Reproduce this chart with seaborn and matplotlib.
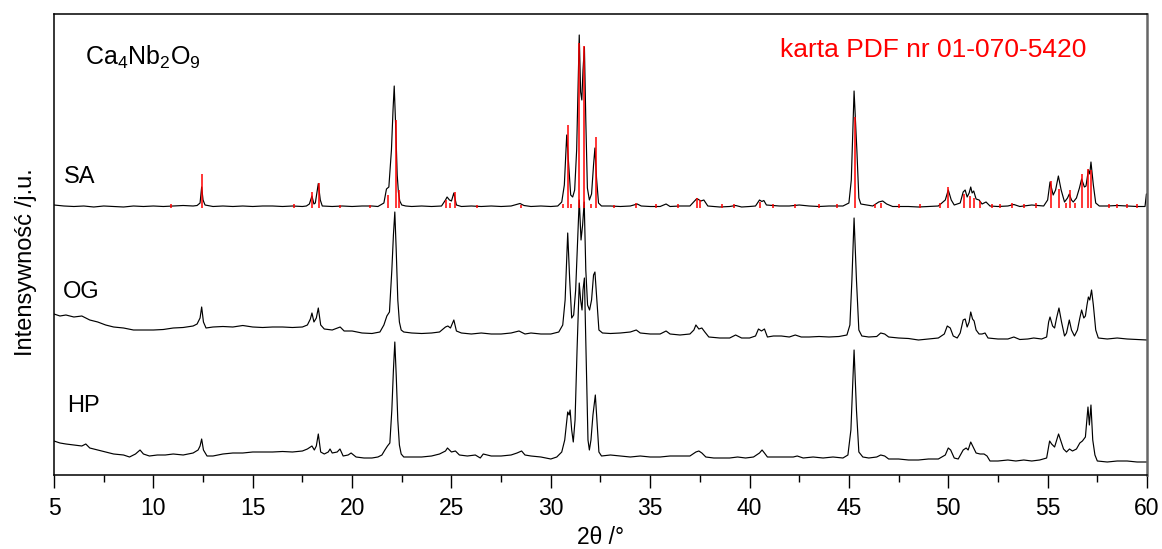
import numpy as np
import pandas as pd
import matplotlib
matplotlib.use("Agg")
import matplotlib.pyplot as plt
from matplotlib.ticker import MultipleLocator
import seaborn as sns

# --- diffraction patterns (2theta in degrees, intensity in a.u.) ---
sa_2theta = [
    5.0, 5.5, 6.0, 6.5, 7.0, 7.5, 8.0, 8.5, 9.0, 9.5,
    10.0, 10.5, 11.0, 11.5, 12.0, 12.2, 12.35, 12.43, 12.5, 12.6,
    13.0, 13.5, 14.0, 14.5, 15.0, 15.5, 16.0, 16.5, 17.0, 17.5,
    17.7, 17.85, 17.98, 18.08, 18.15, 18.3, 18.4, 18.5, 19.0, 19.5,
    20.0, 20.5, 21.0, 21.3, 21.6, 21.73, 21.85, 21.98, 22.06, 22.12,
    22.2, 22.27, 22.33, 22.4, 22.5, 22.7, 23.0, 23.5, 24.0, 24.5,
    24.7, 24.78, 24.9, 25.0, 25.12, 25.25, 25.5, 26.0, 26.5, 27.0,
    27.5, 28.0, 28.45, 28.65, 29.0, 29.5, 30.0, 30.35, 30.55, 30.68,
    30.8, 30.9, 31.0, 31.1, 31.2, 31.3, 31.38, 31.43, 31.5, 31.56,
    31.62, 31.69, 31.76, 31.84, 31.94, 32.05, 32.15, 32.22, 32.3, 32.4,
    32.55, 33.0, 33.5, 34.0, 34.35, 34.55, 35.0, 35.5, 35.8, 36.0,
    36.5, 37.0, 37.35, 37.55, 37.7, 37.9, 38.5, 39.0, 39.3, 39.6,
    40.0, 40.3, 40.5, 40.62, 40.72, 40.85, 41.5, 42.0, 42.5, 43.0,
    43.5, 44.0, 44.7, 45.0, 45.12, 45.26, 45.4, 45.5, 45.6, 45.9,
    46.2, 46.5, 46.7, 46.9, 47.2, 48.0, 48.5, 49.0, 49.5, 49.85,
    50.0, 50.15, 50.3, 50.6, 50.75, 50.85, 50.95, 51.05, 51.13, 51.2,
    51.28, 51.4, 51.55, 51.7, 51.9, 52.1, 52.5, 53.0, 53.3, 53.6,
    54.2, 54.8, 55.0, 55.12, 55.28, 55.4, 55.54, 55.68, 55.85, 56.0,
    56.09, 56.2, 56.29, 56.45, 56.6, 56.71, 56.85, 56.93, 57.05, 57.12,
    57.18, 57.3, 57.42, 57.6, 58.0, 58.5, 59.0, 59.5, 59.9, 59.97, 60.0,
]
sa_intensity = [
    15, 14, 13.5, 14, 13, 14, 13.5, 13, 14, 13.5,
    14, 13.5, 14, 14.5, 14, 14.5, 17, 33, 20, 15,
    13.5, 14, 13.5, 14, 13.5, 14, 14, 13.5, 14, 13.5,
    14, 16, 24, 16, 17, 36.5, 20, 14, 13.5, 14,
    13.5, 14, 14, 13.5, 17, 31, 33, 70, 110, 134,
    90, 45, 28, 19, 15, 14, 13.5, 14, 13.5, 14,
    20, 23, 20, 19, 27, 15, 13.5, 14, 13.5, 14,
    13.5, 14, 16.5, 14.5, 13.5, 14, 13.5, 14, 18, 35,
    85, 55, 25, 23, 30, 70, 140, 185, 128, 120,
    150, 173, 100, 32, 20, 26, 55, 72, 42, 17,
    14, 14, 13.5, 14, 16, 14, 13.5, 13.5, 16, 13.5,
    14, 14, 21.5, 19, 20, 14, 13, 13.5, 14.5, 13,
    13.5, 14, 20, 18.5, 19.5, 15, 14, 14, 15, 14,
    13.5, 14, 14, 17, 40, 129, 70, 22, 16, 15,
    14, 18, 19, 16, 13.5, 13.5, 13, 13.5, 14, 20,
    30, 20, 15, 17, 28, 30, 23, 27, 33, 27,
    29, 21, 20, 16, 18, 14, 13.5, 14, 15.5, 13.5,
    15, 14, 20, 38, 25, 30, 44, 30, 18, 22,
    26, 20, 18, 22, 32, 41, 33, 34, 50, 46,
    58, 35, 17, 14, 14, 14.5, 14, 13.5, 13.5, 26, 26,
]

og_2theta = [
    5.0, 5.3, 5.6, 6.0, 6.4, 6.8, 7.2, 7.6, 8.0, 8.5,
    9.0, 9.5, 10.0, 10.5, 11.0, 11.5, 12.0, 12.2, 12.35, 12.43,
    12.52, 12.65, 13.0, 13.5, 14.0, 14.5, 15.0, 15.5, 16.0, 16.5,
    17.0, 17.5, 17.75, 17.9, 17.98, 18.08, 18.2, 18.3, 18.42, 18.6,
    19.0, 19.4, 19.6, 20.0, 20.5, 21.0, 21.4, 21.6, 21.75, 21.88,
    22.0, 22.08, 22.15, 22.22, 22.3, 22.38, 22.47, 22.6, 23.0, 23.5,
    24.0, 24.4, 24.7, 24.82, 24.95, 25.12, 25.25, 25.5, 26.0, 26.5,
    27.0, 27.5, 28.0, 28.4, 28.7, 29.0, 29.5, 30.0, 30.4, 30.6,
    30.72, 30.85, 30.95, 31.05, 31.15, 31.25, 31.35, 31.43, 31.52, 31.6,
    31.68, 31.76, 31.85, 31.95, 32.05, 32.15, 32.22, 32.3, 32.42, 32.6,
    33.0, 33.5, 34.0, 34.3, 34.5, 35.0, 35.5, 35.8, 36.0, 36.5,
    37.0, 37.2, 37.3, 37.45, 37.6, 37.75, 37.95, 38.5, 39.0, 39.3,
    39.6, 40.0, 40.3, 40.45, 40.6, 40.75, 40.9, 41.2, 41.6, 42.0,
    42.3, 42.6, 43.0, 43.5, 44.0, 44.5, 44.9, 45.05, 45.15, 45.26,
    45.38, 45.5, 45.65, 46.0, 46.4, 46.6, 46.8, 47.0, 47.5, 48.0,
    48.5, 49.0, 49.5, 49.8, 49.95, 50.1, 50.25, 50.45, 50.6, 50.75,
    50.85, 50.95, 51.05, 51.13, 51.22, 51.3, 51.4, 51.55, 51.7, 51.85,
    52.0, 52.5, 53.0, 53.3, 53.6, 54.0, 54.3, 54.7, 54.95, 55.05,
    55.12, 55.25, 55.35, 55.45, 55.57, 55.7, 55.85, 55.95, 56.09, 56.2,
    56.35, 56.5, 56.62, 56.71, 56.82, 56.9, 56.98, 57.05, 57.12, 57.21,
    57.3, 57.42, 57.55, 58.0, 58.5, 59.0, 59.5, 60.0,
]
og_intensity = [
    36, 34, 35, 33, 34, 30, 28, 25, 23, 22,
    20, 20, 20, 20.5, 22, 22.5, 24, 26, 32, 43,
    28, 22, 23, 23.5, 23, 24.5, 23, 22.5, 23, 23,
    22.5, 23, 25, 31, 37, 28, 32, 42, 25, 21,
    20, 23, 19, 19, 17, 16.5, 18, 25, 34, 38,
    80, 115, 138, 100, 50, 28, 20, 18, 17, 16.5,
    17, 18, 23, 24, 22, 30, 19, 17, 16, 17,
    16, 16, 17, 19, 16, 17, 16, 16, 18, 25,
    50, 117, 70, 32, 35, 60, 110, 150, 110, 125,
    148, 80, 45, 40, 50, 75, 78, 55, 20, 17,
    16.5, 17, 18, 20, 17, 16, 16, 19, 16, 15,
    16, 20, 25, 21, 22, 18, 13, 12, 12, 15,
    12, 12, 14, 21, 19, 21, 13, 14, 14, 13,
    15, 13, 13, 13.5, 13, 13.5, 15, 25, 70, 132,
    70, 20, 14, 13, 13.5, 17, 16, 13, 12, 11.5,
    10, 11, 12, 16, 24, 22, 14, 12, 17, 30,
    31, 23, 28, 38, 31, 29, 20, 16, 16, 17,
    12, 11, 11, 13, 10.5, 11, 12, 11, 13, 28,
    33, 24, 22, 32, 42, 28, 14, 17, 30, 20,
    14, 20, 32, 40, 32, 34, 45, 53, 50, 60,
    45, 20, 12, 11, 12, 11, 10.5, 10,
]

hp_2theta = [
    5.0, 5.3, 5.6, 6.0, 6.4, 6.6, 6.8, 7.2, 7.6, 8.0,
    8.5, 8.8, 9.1, 9.33, 9.5, 9.8, 10.2, 10.6, 11.0, 11.5,
    12.0, 12.25, 12.35, 12.43, 12.52, 12.7, 13.0, 13.5, 14.0, 14.5,
    15.0, 15.5, 16.0, 16.5, 17.0, 17.5, 17.75, 17.9, 17.98, 18.1,
    18.2, 18.3, 18.42, 18.6, 18.8, 18.89, 19.0, 19.25, 19.39, 19.55,
    19.8, 19.95, 20.2, 20.6, 21.0, 21.3, 21.5, 21.65, 21.78, 21.9,
    22.0, 22.08, 22.15, 22.22, 22.3, 22.38, 22.47, 22.6, 23.0, 23.5,
    24.0, 24.4, 24.7, 24.8, 25.0, 25.2, 25.4, 25.8, 26.2, 26.45,
    26.6, 27.0, 27.5, 28.0, 28.3, 28.53, 28.7, 29.0, 29.5, 30.0,
    30.3, 30.55, 30.7, 30.85, 30.92, 30.97, 31.05, 31.13, 31.22, 31.32,
    31.43, 31.5, 31.57, 31.62, 31.69, 31.78, 31.87, 31.94, 32.02, 32.12,
    32.24, 32.32, 32.42, 32.55, 33.0, 33.5, 34.0, 34.5, 35.0, 35.5,
    36.0, 36.5, 37.0, 37.3, 37.45, 37.6, 37.8, 38.2, 38.6, 39.0,
    39.4, 39.8, 40.2, 40.5, 40.63, 40.75, 40.9, 41.3, 41.8, 42.2,
    42.4, 42.7, 43.2, 43.7, 44.2, 44.7, 44.95, 45.1, 45.26, 45.38,
    45.5, 45.7, 46.0, 46.4, 46.6, 46.8, 47.0, 47.5, 48.0, 48.5,
    49.0, 49.5, 49.85, 50.0, 50.12, 50.3, 50.5, 50.75, 50.9, 51.0,
    51.13, 51.25, 51.4, 51.6, 51.8, 51.95, 52.1, 52.5, 53.0, 53.4,
    53.8, 54.2, 54.6, 54.95, 55.1, 55.2, 55.35, 55.55, 55.65, 55.8,
    55.95, 56.1, 56.25, 56.45, 56.62, 56.75, 56.9, 57.03, 57.1, 57.18,
    57.27, 57.38, 57.5, 58.0, 58.5, 59.0, 59.5, 60.0,
]
hp_intensity = [
    34, 32, 31, 30, 29, 31, 27, 25, 23, 21,
    20, 18, 21, 25, 21, 19, 20, 20, 21, 20,
    22, 25, 29, 36, 25, 19, 19, 21, 22, 22,
    23, 23, 23, 23.5, 23, 24, 26, 28, 29, 25,
    29, 41, 23, 21, 23, 26, 22, 23, 26, 19,
    20, 22, 18, 17, 17, 18, 20, 25, 29, 32,
    65, 105, 133, 100, 55, 30, 21, 18, 18, 18,
    19, 21, 24, 27, 23, 24, 20, 19, 20, 17,
    21, 19, 19, 20, 22, 24, 20, 19, 18, 16,
    18, 23, 35, 63, 60, 65, 45, 33, 55, 125,
    192, 175, 165, 185, 197, 115, 35, 25, 35, 60,
    80, 55, 23, 19, 20, 19, 18, 19, 18, 18,
    19, 19, 19, 23, 24, 22, 18, 17, 17, 17,
    18, 17, 18, 22, 25, 22, 18, 18, 18, 18,
    19, 17, 18, 17, 18, 17, 20, 45, 125, 65,
    23, 18, 17, 18, 20, 19, 16, 16, 15, 15,
    16, 16, 20, 27, 25, 17, 16, 25, 27, 25,
    33, 28, 22, 21, 21, 19, 14, 14, 15, 14,
    15, 14, 15, 17, 34, 31, 28, 41, 35, 26,
    23, 26, 24, 26, 32, 34, 38, 68, 50, 70,
    35, 20, 14, 13, 14, 14, 13, 13,
]

# reference card 01-070-5420 (line positions and relative heights)
card_2theta = [
    12.45, 17.98, 18.35, 21.80, 22.19, 22.35, 24.75, 24.92, 25.17, 30.85,
    31.43, 31.69, 32.27, 37.34, 37.50, 40.53, 45.29, 50.00, 50.78, 51.10,
    51.30, 51.60, 55.15, 55.59, 56.13, 56.74, 57.05, 57.17,
    10.9, 17.1, 19.4, 20.9, 26.3, 28.5, 30.6, 31.0, 32.0, 33.2,
    34.3, 35.3, 36.4, 38.6, 39.2, 41.2, 42.3, 43.5, 44.4, 46.3,
    46.6, 47.5, 48.6, 49.6, 52.2, 52.6, 53.2, 53.8, 54.4, 55.9,
    56.4, 58.1, 58.5, 59.0, 59.5,
]
card_height = [
    33, 15, 24, 12, 87, 17, 7, 4, 15, 82,
    164, 161, 70, 9, 7, 5, 90, 20, 13, 11,
    9, 6, 26, 18, 17, 33, 38, 37,
    3, 3, 2, 2, 2, 2, 3, 3, 3, 2,
    4, 3, 3, 3, 3, 3, 3, 3, 3, 3,
    4, 3, 3, 4, 3, 3, 4, 3, 4, 4,
    4, 3, 3, 3, 3,
]

sample_names = ["SA", "OG", "HP"]
sample_offsets = [255, 125, 0]
card_base = 13
x_ticks = [5, 10, 15, 20, 25, 30, 35, 40, 45, 50, 55, 60]

traces = {
    "SA": (sa_2theta, sa_intensity),
    "OG": (og_2theta, og_intensity),
    "HP": (hp_2theta, hp_intensity),
}

frames = []
for name, off in zip(sample_names, sample_offsets):
    tt, inten = traces[name]
    frames.append(pd.DataFrame({
        "two_theta": tt,
        "shifted": np.asarray(inten, dtype=float) + off,
        "sample": name,
    }))
df = pd.concat(frames, ignore_index=True)

sns.set_theme(style="ticks")
plt.rcParams["font.family"] = ["Liberation Sans", "DejaVu Sans"]
plt.rcParams["mathtext.fontset"] = "custom"
plt.rcParams["mathtext.rm"] = "Liberation Sans"
plt.rcParams["mathtext.it"] = "Liberation Sans:italic"
plt.rcParams["text.color"] = "black"
plt.rcParams["axes.labelcolor"] = "black"
plt.rcParams["xtick.color"] = "black"
plt.rcParams["xtick.labelcolor"] = "black"

fig, ax = plt.subplots(figsize=(11.62, 5.49), dpi=100)
fig.subplots_adjust(left=54 / 1162, right=1147 / 1162, top=1 - 14 / 549, bottom=1 - 475 / 549)

for name in sample_names:
    sub = df[df["sample"] == name]
    sns.lineplot(data=sub, x="two_theta", y="shifted", ax=ax, color="black",
                 lw=0.85, estimator=None, sort=False, legend=False, zorder=2)

sa_off = sample_offsets[sample_names.index("SA")]
ax.vlines(card_2theta, sa_off + card_base - 1,
          sa_off + card_base + np.asarray(card_height, dtype=float),
          colors="#ff0000", lw=1.1, zorder=3)

ax.set_xlim(5, 60)
ax.set_ylim(0, 461)
ax.set_xticks(x_ticks)
ax.xaxis.set_minor_locator(MultipleLocator(2.5))
ax.set_yticks([])
ax.tick_params(axis="x", which="major", direction="out", length=9, width=1.0,
               labelsize=16.5, pad=7, colors="black")
ax.tick_params(axis="x", which="minor", direction="out", length=5, width=1.0,
               colors="black")

for side in ["left", "bottom", "top"]:
    ax.spines[side].set_color("black")
    ax.spines[side].set_linewidth(1.1)
ax.spines["right"].set_color("#666666")
ax.spines["right"].set_linewidth(1.8)

ax.set_xlabel("2θ /°", fontsize=16.5, labelpad=4, color="black")
ax.set_ylabel("Intensywność /j.u.", fontsize=17, color="black")
ax.yaxis.set_label_coords(-0.016, 0.461)

ax.text(0.0284, 0.889, r"$\mathregular{Ca_4Nb_2O_9}$", transform=ax.transAxes,
        fontsize=18, color="black", ha="left", va="baseline")
ax.text(0.664, 0.907, "karta PDF nr 01-070-5420", transform=ax.transAxes,
        fontsize=19, color="#ff0000", ha="left", va="baseline")

label_pos = {"SA": (0.0091, 0.633), "OG": (0.0082, 0.384), "HP": (0.0119, 0.137)}
for name in sample_names:
    lx, ly = label_pos[name]
    ax.text(lx, ly, name, transform=ax.transAxes, fontsize=17, color="black",
            ha="left", va="baseline")

fig.savefig("out.png", dpi=100)
